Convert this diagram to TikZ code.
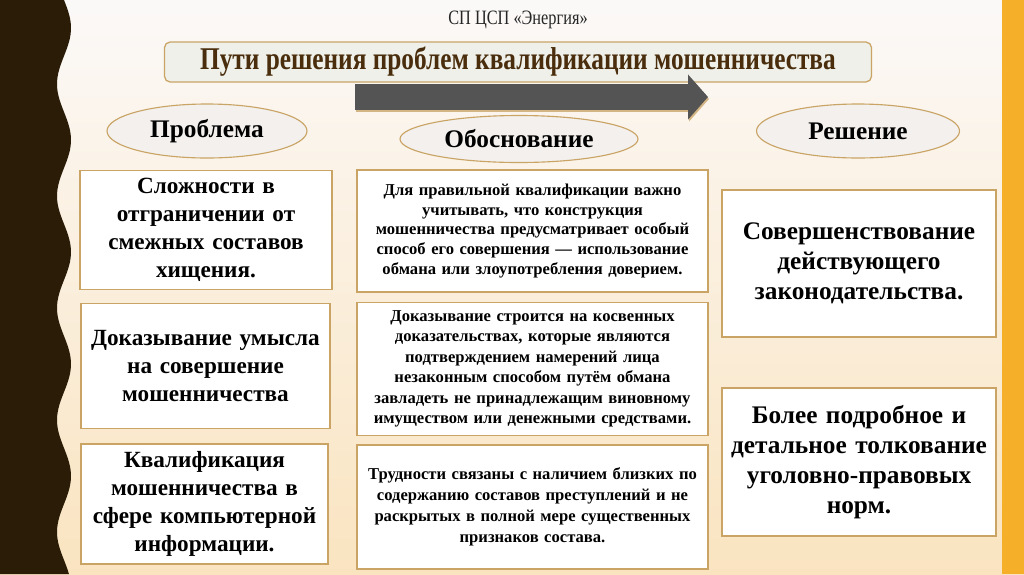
\documentclass[tikz,border=0pt]{standalone}
\usepackage{fontspec}
\setmainfont{Liberation Serif}
\newfontfamily\narrowfont[FakeStretch=0.8]{Liberation Serif}
\usepackage{tikz}
\usetikzlibrary{shapes.geometric,arrows.meta}
\definecolor{SPDark}{HTML}{2A1C07}
\definecolor{SPOrange}{HTML}{F5AF28}
\definecolor{SPBgTop}{HTML}{FBF9F8}
\definecolor{SPBgMid}{HTML}{E7E2E6}
\definecolor{SPBgBot}{HTML}{FAE4C0}
\definecolor{SPLine}{HTML}{C9A465}
\definecolor{SPBanner}{HTML}{EEF0E9}
\definecolor{SPBrown}{HTML}{4A2D0C}
\definecolor{SPArrow}{HTML}{555454}
\definecolor{SPOval}{HTML}{F3F0EE}
\newcommand\pxu{0.025cm}

\tikzset{
  oval/.style={ellipse,draw=SPLine,fill=SPOval,line width=0.8pt,inner sep=0pt,
    font=\fontsize{18}{21}\selectfont\bfseries},
  bigbox/.style={draw=SPLine,fill=white,line width=0.9pt,align=center,inner sep=0pt,
    font=\fontsize{16.5}{20}\selectfont\bfseries},
  smallbox/.style={draw=SPLine,fill=white,line width=0.9pt,align=center,inner sep=0pt,
    font=\fontsize{11.8}{14.2}\selectfont\bfseries},
  solbox/.style={draw=SPLine,fill=white,line width=0.9pt,align=center,inner sep=0pt,
    font=\fontsize{18}{21.3}\selectfont\bfseries},
}

\begin{document}
\begin{tikzpicture}[x=0.025cm,y=-0.025cm]
\path[use as bounding box] (0,0) rectangle (1024,574);
% background
\shade[top color=SPBgTop,middle color=SPBgMid,bottom color=SPBgBot] (0,0) rectangle (1024,574);
\fill[SPDark] (0,0) -- plot[domain=0:574,samples=150] ({64+7*sin(3.214*\x)},\x) -- (0,574) -- cycle;
\fill[SPOrange] (1002,0) rectangle (1024,574);

% heading
\node[font=\narrowfont\fontsize{14.5}{16}\selectfont,text=black!85] (org) at (518,20) {СП ЦСП «Энергия»};
\node[draw=SPLine,fill=SPBanner,line width=0.9pt,rounded corners=4pt,
  minimum width=707*\pxu,minimum height=40*\pxu,text=SPBrown,
  font=\narrowfont\fontsize{22.5}{24}\selectfont\bfseries] (title) at (518,62)
  {Пути решения проблем квалификации мошенничества};

% arrow
\coordinate (arrS) at (355,97);
\coordinate (arrE) at (708,97);
\draw[SPLine!80,line width=26*\pxu,-{Triangle[length=20*\pxu,width=44*\pxu]}]
  ([shift={(1,2)}]arrS) -- ([shift={(1,2)}]arrE);
\draw[SPArrow,line width=26*\pxu,-{Triangle[length=20*\pxu,width=44*\pxu]}] (arrS) -- (arrE);

% column heads
\node[oval,minimum width=200*\pxu,minimum height=54*\pxu] (probl) at (207,131) {Проблема};
\node[oval,minimum width=238*\pxu,minimum height=47*\pxu] (obosn) at (519,139) {Обоснование};
\node[oval,minimum width=203*\pxu,minimum height=54*\pxu] (resh) at (858,131) {Решение};

% problems
\node[bigbox,minimum width=252*\pxu,minimum height=119*\pxu,text width=240*\pxu] (pr1) at (206,230)
  {Сложности в\\отграничении от\\смежных составов\\хищения.};
\node[bigbox,minimum width=249*\pxu,minimum height=125*\pxu,text width=240*\pxu] (pr2) at (205.5,366)
  {Доказывание умысла\\на совершение\\мошенничества};
\node[bigbox,minimum width=247*\pxu,minimum height=120*\pxu,text width=240*\pxu] (pr3) at (204.5,504)
  {Квалификация\\мошенничества в\\сфере компьютерной\\информации.};

% grounds
\node[smallbox,minimum width=351*\pxu,minimum height=122*\pxu,text width=345*\pxu] (ob1) at (532.5,231)
  {Для правильной квалификации важно\\учитывать, что конструкция\\мошенничества предусматривает особый\\способ его совершения — использование\\обмана или злоупотребления доверием.};
\node[smallbox,minimum width=351*\pxu,minimum height=133*\pxu,text width=345*\pxu,
  font=\fontsize{11.8}{14.6}\selectfont\bfseries] (ob2) at (532.5,369)
  {Доказывание строится на косвенных\\доказательствах, которые являются\\подтверждением намерений лица\\незаконным способом путём обмана\\завладеть не принадлежащим виновному\\имуществом или денежными средствами.};
\node[smallbox,minimum width=351*\pxu,minimum height=124*\pxu,text width=345*\pxu,
  font=\fontsize{11.8}{14.8}\selectfont\bfseries] (ob3) at (532.5,507)
  {Трудности связаны с наличием близких по\\содержанию составов преступлений и не\\раскрытых в полной мере существенных\\признаков состава.};

% solutions
\node[solbox,minimum width=274*\pxu,minimum height=147*\pxu,text width=268*\pxu] (re1) at (859,263.5)
  {Совершенствование\\действующего\\законодательства.};
\node[solbox,minimum width=274*\pxu,minimum height=148*\pxu,text width=268*\pxu] (re2) at (859,462)
  {Более подробное и\\детальное толкование\\уголовно-правовых\\норм.};
\end{tikzpicture}
\end{document}
